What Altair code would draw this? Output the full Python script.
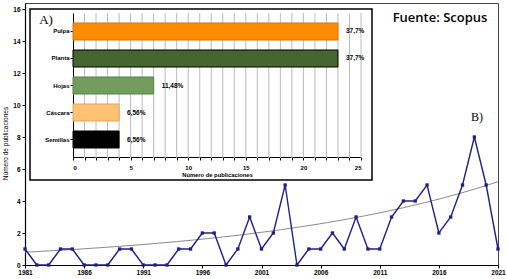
import altair as alt
import pandas as pd

# ---- main series (B) ----
years = list(range(1981, 2022))
pubs = [1, 0, 0, 1, 1, 0, 0, 0, 1, 1,
        0, 0, 0, 1, 1, 2, 2, 0, 1, 3,
        1, 2, 5, 0, 1, 1, 2, 1, 3, 1,
        1, 3, 4, 4, 5, 2, 3, 5, 8, 5, 1]
year_ticks = [1981, 1986, 1991, 1996, 2001, 2006, 2011, 2016, 2021]
y_ticks = [0, 2, 4, 6, 8, 10, 12, 14, 16]

# ---- inset (A) ----
cats = ["Pulpa", "Planta", "Hojas", "Cáscara", "Semillas"]
counts = [23, 23, 7, 4, 4]
pct_labels = ["37,7%", "37,7%", "11,48%", "6,56%", "6,56%"]
bar_fill = ["#FF8C00", "#46662F", "#739D5E", "#FFC173", "#000000"]
bar_stroke = ["#D97700", "#000000", "#5C8048", "#E9A552", "#000000"]
inset_ticks = list(range(0, 26))
inset_grid = list(range(1, 26))

notes_source = ["Fuente: Scopus"]
notes_a = ["A)"]
notes_b = ["B)"]

FONT = "Liberation Sans"
NAVY = "#1F1F8C"

main_df = pd.DataFrame({"year": years, "pubs": pubs})
inset_df = pd.DataFrame({"cat": cats, "n": counts, "pct": pct_labels})
grid_df = pd.DataFrame({"n": inset_grid})

X_main = alt.X("year:Q",
               scale=alt.Scale(domain=[1981, 2021], nice=False, zero=False),
               axis=alt.Axis(values=year_ticks, format="d", title=None,
                             labelFont=FONT, labelFontWeight="bold", labelFontSize=6.5,
                             labelColor="black", tickSize=3, tickColor="black",
                             domainColor="black", domainWidth=1.2, labelPadding=1,
                             labelFlush=False, grid=False))
Y_main = alt.Y("pubs:Q",
               scale=alt.Scale(domain=[0, 16.375], nice=False),
               axis=alt.Axis(values=y_ticks, title="Número de publicaciones",
                             titleFont=FONT, titleFontWeight="normal", titleFontSize=6.5,
                             titleColor="black", titleX=-20, titleY=140,
                             titleBaseline="middle", titleAlign="center",
                             labelFont=FONT, labelFontWeight="bold", labelFontSize=6.5,
                             labelColor="black", tickSize=3, tickColor="black",
                             domainColor="black", domainWidth=1.2, labelPadding=2,
                             grid=False))

base = alt.Chart(main_df)
trend = base.transform_filter("datum.pubs > 0").transform_regression(
    "year", "pubs", method="exp", extent=[1981, 2021]
).mark_line(color="#8A8A8A", strokeWidth=1).encode(x=X_main, y=Y_main)
line = base.mark_line(color=NAVY, strokeWidth=1.4).encode(x=X_main, y=Y_main)
pts = base.mark_square(color=NAVY, size=11, opacity=1).encode(x=X_main, y=Y_main)
main = alt.layer(trend, line, pts)

X_in = alt.X("n:Q",
             scale=alt.Scale(domain=[0, 25], range=[48, 336], nice=False),
             axis=alt.Axis(orient="bottom", offset=-108, values=inset_ticks,
                           labelExpr="datum.value % 5 === 0 ? datum.label : ''",
                           labelOverlap=False, title="Número de publicaciones",
                           titleFont=FONT, titleFontWeight="bold", titleFontSize=5.8,
                           titleColor="black", titlePadding=1,
                           labelFont=FONT, labelFontWeight="bold", labelFontSize=6,
                           labelColor="black", tickSize=3, tickColor="black",
                           domainColor="black", labelPadding=4, grid=False))
Y_in = alt.Y("cat:N",
             scale=alt.Scale(domain=cats, range=[10, 155],
                             paddingInner=0.37, paddingOuter=0.37),
             axis=alt.Axis(orient="left", offset=-48, title=None,
                           labelFont=FONT, labelFontWeight="bold", labelFontSize=6,
                           labelColor="black", tickSize=3, tickColor="black",
                           domainColor="black", labelPadding=1, grid=False))

grid = alt.Chart(grid_df).mark_rule(color="#BBBBBB", strokeWidth=1).encode(
    x=X_in, y=alt.value(10), y2=alt.value(155))
bars = alt.Chart(inset_df).mark_bar(strokeWidth=1, opacity=1).encode(
    x=X_in, y=Y_in,
    color=alt.Color("cat:N", scale=alt.Scale(domain=cats, range=bar_fill), legend=None),
    stroke=alt.Stroke("cat:N", scale=alt.Scale(domain=cats, range=bar_stroke), legend=None))
labels = alt.Chart(inset_df).mark_text(align="left", dx=8, font=FONT, fontWeight="bold",
                                        fontSize=6.5, color="black").encode(
    x=X_in, y=Y_in, text="pct:N")
inset = alt.layer(grid, bars, labels)

box = alt.Chart(pd.DataFrame({"k": [0]})).mark_rect(
    fillOpacity=0, stroke="black", strokeWidth=1.5).encode(
    x=alt.value(5), x2=alt.value(347), y=alt.value(6), y2=alt.value(177))

src = alt.Chart(pd.DataFrame({"t": notes_source})).mark_text(
    font="Open Sans", fontWeight=600, fontSize=13, color="black").encode(
    text="t:N", x=alt.value(415), y=alt.value(15))
ta = alt.Chart(pd.DataFrame({"t": notes_a})).mark_text(
    font="Liberation Serif", fontSize=13, color="black").encode(
    text="t:N", x=alt.value(21), y=alt.value(17))
tb = alt.Chart(pd.DataFrame({"t": notes_b})).mark_text(
    font="Liberation Serif", fontSize=12, color="black").encode(
    text="t:N", x=alt.value(452), y=alt.value(114))

chart = alt.layer(main, inset, box, src, ta, tb).resolve_scale(
    x="independent", y="independent"
).properties(
    width=473, height=262,
    autosize=alt.AutoSizeParams(type="none"),
    padding={"left": 25, "top": 3, "right": 9, "bottom": 14},
    background="white",
).configure_view(stroke="#444444", strokeWidth=1)

chart.save("out.html", embed_options={"renderer": "svg", "actions": False})
